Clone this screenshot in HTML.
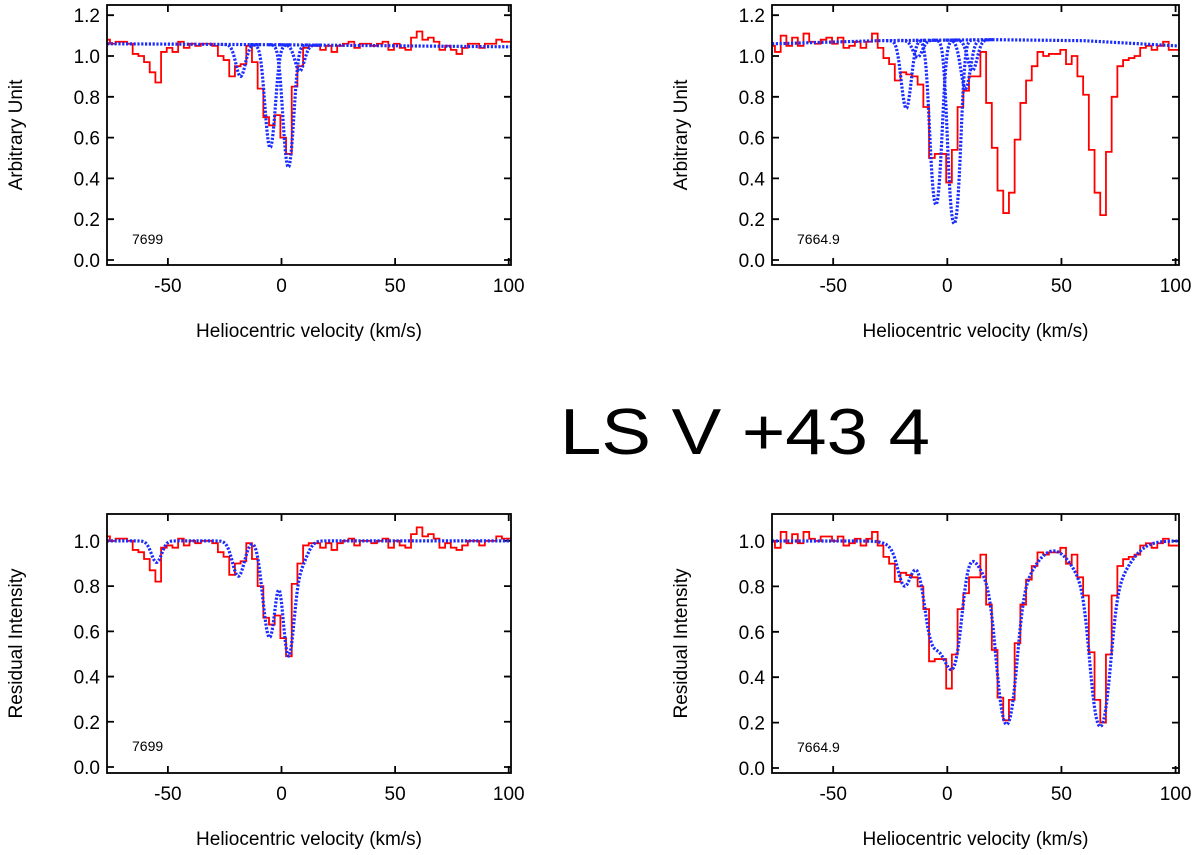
<!DOCTYPE html>
<html><head><meta charset="utf-8"><style>
body{margin:0;background:#fff;}
svg{display:block;font-family:"Liberation Sans",Arial,sans-serif;}
</style></head><body>
<svg id="fig" width="1200" height="855" viewBox="0 0 1200 855">
<text x="745" y="454" font-size="65" text-anchor="middle" textLength="370" lengthAdjust="spacingAndGlyphs">LS V +43 4</text>
</svg>
<script>
// ---------- data ----------
const binStart = -78, binWidth = 2.5;
const redTL = [1.08,1.06,1.07,1.07,1.06,1.01,1.00,0.97,0.92,0.87,1.02,1.04,1.02,1.07,1.04,1.06,1.05,1.06,1.06,1.05,1.00,0.98,0.90,0.95,0.96,1.05,0.97,0.84,0.70,0.66,0.71,0.60,0.52,0.85,0.95,1.04,1.05,1.05,1.03,1.05,1.02,1.05,1.06,1.07,1.04,1.06,1.06,1.05,1.06,1.07,1.03,1.06,1.04,1.03,1.09,1.12,1.08,1.09,1.07,1.03,1.05,1.03,1.01,1.04,1.06,1.06,1.04,1.06,1.06,1.08,1.07,1.07];
const redTR = [1.05,1.02,1.10,1.05,1.09,1.05,1.11,1.07,1.06,1.08,1.09,1.06,1.09,1.04,1.05,1.07,1.04,1.07,1.11,1.04,0.99,0.96,0.88,0.92,0.91,0.90,0.86,0.75,0.50,0.52,0.52,0.38,0.54,0.75,0.83,0.90,0.90,1.02,0.77,0.55,0.34,0.23,0.33,0.59,0.77,0.88,0.95,1.02,1.00,1.01,1.01,1.03,0.96,1.00,0.90,0.81,0.54,0.33,0.22,0.53,0.80,0.95,0.98,0.99,1.00,1.04,1.05,1.03,1.05,1.07,1.03,1.03];
const redBL = [1.02,1.00,1.01,1.01,1.00,0.96,0.95,0.92,0.87,0.82,0.97,0.98,0.97,1.01,0.98,1.00,0.99,1.00,1.00,0.99,0.95,0.93,0.85,0.90,0.91,0.99,0.92,0.80,0.66,0.63,0.67,0.57,0.49,0.81,0.90,0.98,0.99,0.99,0.97,0.99,0.96,0.99,1.00,1.01,0.98,1.00,1.00,0.99,1.00,1.01,0.97,1.00,0.98,0.97,1.03,1.06,1.02,1.03,1.01,0.97,0.99,0.97,0.96,0.98,1.00,1.00,0.98,1.00,1.00,1.02,1.01,1.01];
const redBR = [1.00,0.97,1.04,0.99,1.03,0.99,1.04,1.01,1.00,1.02,1.02,1.00,1.02,0.98,0.99,1.01,0.98,1.01,1.04,0.98,0.93,0.90,0.82,0.86,0.85,0.84,0.80,0.70,0.47,0.48,0.48,0.35,0.50,0.70,0.77,0.84,0.84,0.94,0.72,0.52,0.31,0.21,0.30,0.55,0.72,0.83,0.89,0.95,0.94,0.95,0.95,0.97,0.90,0.94,0.84,0.76,0.51,0.30,0.20,0.50,0.76,0.89,0.92,0.93,0.94,0.98,0.99,0.97,0.99,1.01,0.98,0.98];
// continuum (velocity, level) for top panels
const contVelTL = [-76, 0, 100];
const contValTL = [1.06, 1.055, 1.045];
const contVelTR = [-76, -30, 20, 60, 100];
const contValTR = [1.06, 1.075, 1.08, 1.075, 1.05];
// absorption components: center (km/s), optical depth, sigma (km/s)
const compCenTL = [-18, -5, 3, 8];
const compTauTL = [0.16, 0.65, 0.84, 0.13];
const compSigTL = [2, 2, 2, 2];
const compCenTR = [-18, -13, -5, 3, 8, 11];
const compTauTR = [0.37, 0.08, 1.38, 1.8, 0.25, 0.15];
const compSigTR = [2, 2, 2, 2, 2, 2];
const compCenBL = [-55, -19, -8, -5, 3, 8];
const compTauBL = [0.10, 0.17, 0.10, 0.52, 0.68, 0.12];
const compSigBL = [2.2, 2.5, 2, 2.3, 2.2, 3];
const compCenBR = [-19, -15, -8, -5, -1, 3, 26, 26, 67, 67];
const compTauBR = [0.14, 0.10, 0.18, 0.45, 0.25, 0.7, 1.35, 0.3, 1.4, 0.3];
const compSigBR = [2.5, 6, 2.5, 3.2, 2.5, 3, 3.2, 9, 3.2, 9];
const xTicks = [-50, 0, 50, 100];
const yTicksTop = [0, 0.2, 0.4, 0.6, 0.8, 1.0, 1.2];
const yTicksBot = [0, 0.2, 0.4, 0.6, 0.8, 1.0];

// ---------- drawing ----------
const NS = "http://www.w3.org/2000/svg";
const svg = document.getElementById('fig');
function mk(tag, attrs, parent){ const e=document.createElementNS(NS,tag); for(const k in attrs) e.setAttribute(k,attrs[k]); (parent||svg).appendChild(e); return e; }
function interp(xs, ys, x){ if(x<=xs[0]) return ys[0]; for(let i=1;i<xs.length;i++){ if(x<=xs[i]){ const t=(x-xs[i-1])/(xs[i]-xs[i-1]); return ys[i-1]+t*(ys[i]-ys[i-1]); } } return ys[ys.length-1]; }

function panel(o){
  const g = mk('g',{});
  
  
  const X = v => o.x0 + (v - o.vmin)/(o.vmax - o.vmin)*(o.x1 - o.x0);
  const Y = f => o.y0 - (f - o.ymin)/(o.ymax - o.ymin)*(o.y0 - o.yTop);
  const left=o.x0, right=o.x1, top=o.yTop, bot=o.yBot;
  const cid = o.name+'-clip';
  const cp = mk('clipPath',{id:cid},g); mk('rect',{x:left,y:top,width:right-left,height:bot-top},cp);
  xTicks.forEach(t=>{
    const x=X(t);
    const tk=mk('path',{d:`M${x},${bot}v-7M${x},${top}v7`,stroke:'#000','stroke-width':1.8},g);
    
    
    const lb=mk('text',{x:x,y:bot+27,'font-size':19,'text-anchor':'middle'},g);
    lb.textContent=t;
    
    
  });
  o.yTicks.forEach(t=>{
    const y=Y(t);
    const tk=mk('path',{d:`M${left},${y}h7M${right},${y}h-7`,stroke:'#000','stroke-width':1.8},g);
    
    
    const lb=mk('text',{x:left-7,y:y+7,'font-size':19,'text-anchor':'end'},g);
    lb.textContent=t.toFixed(1);
    
    
  });
  let d='';
  o.red.forEach((val,i)=>{ const a=X(binStart+i*binWidth), b=X(binStart+(i+1)*binWidth), y=Y(val); d += (i===0?`M${a},${y}`:`V${y}`)+`H${b}`; });
  const rp=mk('path',{d:d,fill:'none',stroke:'#ff0000','stroke-width':1.8,'clip-path':`url(#${cid})`},g);
  
  
  const vs=[]; for(let v=o.vmin; v<=o.vmax+0.01; v+=0.25) vs.push(v);
  const gauss=(v,c,s)=>Math.exp(-((v-c)*(v-c))/(2*s*s));
  const blueStyle={fill:'none',stroke:'#1a2cff','stroke-width':3.2,'stroke-dasharray':'2.2 1.6','clip-path':`url(#${cid})`};
  if(o.separate){
    const cont=v=>interp(o.contVel,o.contVal,v);
    let cd=''; vs.forEach((v,i)=>{cd+=(i?'L':'M')+X(v)+','+Y(cont(v));});
    const cl=mk('path',Object.assign({d:cd},blueStyle),g);
    
    
    o.cen.forEach((c,k)=>{
      let pd=''; let first=true;
      vs.forEach(v=>{ if(Math.abs(v-c)>o.sig[k]*4.5) return; const f=cont(v)*Math.exp(-o.tau[k]*gauss(v,c,o.sig[k])); pd+=(first?'M':'L')+X(v)+','+Y(f); first=false; });
      const cpth=mk('path',Object.assign({d:pd},blueStyle),g);
      
      
    });
  } else {
    let md=''; vs.forEach((v,i)=>{ let t=0; o.cen.forEach((c,k)=>{t+=o.tau[k]*gauss(v,c,o.sig[k]);}); md+=(i?'L':'M')+X(v)+','+Y(Math.exp(-t)); });
    const mp=mk('path',Object.assign({d:md},blueStyle),g);
    
    
  }
  const fr=mk('rect',{x:left,y:top,width:right-left,height:bot-top,fill:'none',stroke:'#000','stroke-width':1.8},g);
  
  
  const lab=mk('text',{x:left+25,y:o.y0-16,'font-size':14},g);
  lab.textContent=o.label;
  
  
  const xt=mk('text',{x:(left+right)/2,y:bot+72,'font-size':19,'text-anchor':'middle'},g);
  xt.textContent='Heliocentric velocity (km/s)';
  
  
  const yc=(top+bot)/2;
  const yt=mk('text',{x:0,y:0,'font-size':19,'text-anchor':'middle',transform:`translate(${left-85},${yc}) rotate(-90)`},g);
  yt.textContent=o.ytitle;
  
  
}
panel({name:'panel-top-left',x0:107,x1:511,vmin:-76.8,vmax:101,yTop:5,yBot:265,y0:260,ymin:0,ymax:1.25,yTicks:yTicksTop,red:redTL,separate:true,contVel:contVelTL,contVal:contValTL,cen:compCenTL,tau:compTauTL,sig:compSigTL,label:'7699',ytitle:'Arbitrary Unit'});
panel({name:'panel-top-right',x0:772,x1:1179,vmin:-76.8,vmax:101.5,yTop:5,yBot:265,y0:260,ymin:0,ymax:1.25,yTicks:yTicksTop,red:redTR,separate:true,contVel:contVelTR,contVal:contValTR,cen:compCenTR,tau:compTauTR,sig:compSigTR,label:'7664.9',ytitle:'Arbitrary Unit'});
panel({name:'panel-bottom-left',x0:107,x1:511,vmin:-76.8,vmax:101,yTop:514,yBot:773,y0:767,ymin:0,ymax:1.119,yTicks:yTicksBot,red:redBL,separate:false,cen:compCenBL,tau:compTauBL,sig:compSigBL,label:'7699',ytitle:'Residual Intensity'});
panel({name:'panel-bottom-right',x0:772,x1:1179,vmin:-76.8,vmax:101.5,yTop:514,yBot:773,y0:768,ymin:0,ymax:1.119,yTicks:yTicksBot,red:redBR,separate:false,cen:compCenBR,tau:compTauBR,sig:compSigBR,label:'7664.9',ytitle:'Residual Intensity'});
</script>
</body></html>
